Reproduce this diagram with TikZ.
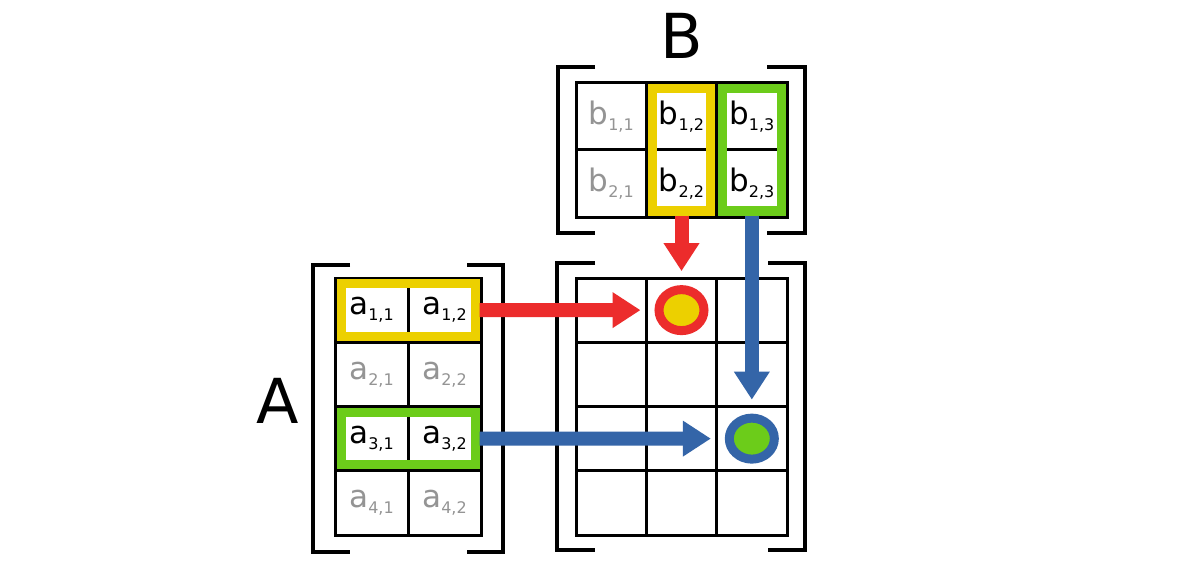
\documentclass[tikz,border=0pt]{standalone}
\usepackage{fontspec}
\setmainfont{DejaVu Sans}
\usetikzlibrary{arrows.meta,shapes.geometric}

\definecolor{hlyellow}{RGB}{236,208,0}
\definecolor{hlgreen}{RGB}{108,204,26}
\definecolor{arred}{RGB}{236,44,44}
\definecolor{arblue}{RGB}{52,101,168}
\definecolor{lbl}{RGB}{148,148,148}

\newcommand{\idx}[1]{\raisebox{-0.2em}{\fontsize{16}{16}\selectfont #1}}

\tikzset{
  cellA/.style={draw, line width=3pt, inner sep=0pt, minimum width=73pt, minimum height=64.25pt,
    font=\fontsize{31}{36}\selectfont},
  cellB/.style={cellA, minimum width=70.33pt, minimum height=67pt},
  hlrow/.style={draw=#1, line width=9pt, inner sep=0pt, minimum width=134pt, minimum height=52.25pt},
  hlcol/.style={draw=#1, line width=9pt, inner sep=0pt, minimum width=58.33pt, minimum height=122pt},
  dot/.style n args={2}{ellipse, draw=#1, fill=#2, line width=9pt, minimum width=45pt, minimum height=41pt, inner sep=0pt},
  flow/.style={draw=#1, line width=14pt, -{Triangle[length=28pt,width=34pt]}, shorten >=14pt},
  brack/.style={line width=4.5pt},
  title/.style={font=\fontsize{62}{70}\selectfont}
}

\begin{document}
\begin{tikzpicture}[x=1pt,y=-1pt]
\fill[white] (0,0) rectangle (1188,580);
\useasboundingbox (0,0) rectangle (1188,580);

% matrix A
\foreach \r/\c/\col in {1/1/black,1/2/black,2/1/lbl,2/2/lbl,3/1/black,3/2/black,4/1/lbl,4/2/lbl}
  \node[cellA, text=\col] (a\r\c) at ({371.5+73*(\c-1)},{278+64.25*(\r-0.5)}) {a\idx{\r,\c}};

% matrix B
\foreach \r/\c/\col in {1/1/lbl,1/2/black,1/3/black,2/1/lbl,2/2/black,2/3/black}
  \node[cellB, text=\col] (b\r\c) at ({611.17+70.33*(\c-1)},{83+67*(\r-0.5)}) {b\idx{\r,\c}};

% matrix C (empty)
\foreach \r in {1,...,4}
  \foreach \c in {1,2,3}
    \node[cellA, minimum width=70.33pt] (c\r\c) at ({611.17+70.33*(\c-1)},{278+64.25*(\r-0.5)}) {};

% highlights
\node[hlrow=hlyellow] (hlA1) at (408,310.1) {};
\node[hlrow=hlgreen] (hlA3) at (408,438.6) {};
\node[hlcol=hlyellow] (hlB2) at (681.5,150) {};
\node[hlcol=hlgreen] (hlB3) at (751.83,150) {};

% result dots
\node[dot={arred}{hlyellow}] (dotY) at (c12) {};
\node[dot={arblue}{hlgreen}] (dotG) at (c33) {};

% brackets
\draw[brack] (350,265) -- (313,265) -- (313,552) -- (350,552);
\draw[brack] (467,265) -- (503,265) -- (503,552) -- (467,552);
\draw[brack] (595,67) -- (558,67) -- (558,233) -- (595,233);
\draw[brack] (767,67) -- (805,67) -- (805,233) -- (767,233);
\draw[brack] (595,263) -- (557,263) -- (557,550) -- (595,550);
\draw[brack] (768,263) -- (805,263) -- (805,550) -- (768,550);

% names
\node[title] (nameA) at (278,401) {A};
\node[title] (nameB) at (682,36) {B};

% arrows
\draw[flow=arred] (hlA1.east) -- (dotY.west);
\draw[flow=arred] (hlB2.south) -- (dotY.north);
\draw[flow=arblue] (hlA3.east) -- (dotG.west);
\draw[flow=arblue] (hlB3.south) -- (dotG.north);

\end{tikzpicture}
\end{document}
